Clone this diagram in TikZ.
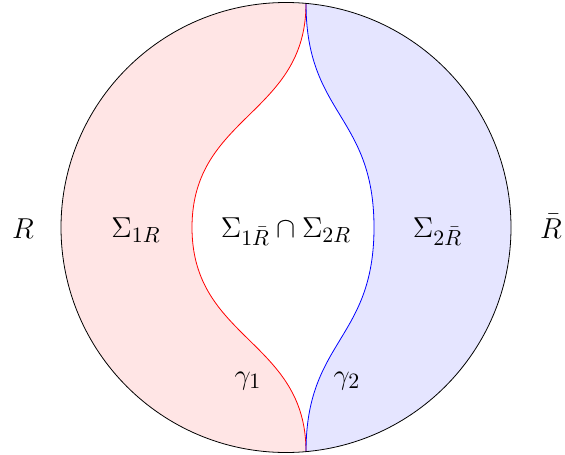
\documentclass[tikz,border=0pt]{standalone}
\begin{document}
\begin{tikzpicture}[x=0.5pt,y=-0.5pt,
  lbl/.style={anchor=base,inner sep=0pt,font=\fontsize{15.8}{19}\selectfont}]
\useasboundingbox (0,0) rectangle (565,454);
\coordinate (c) at (286,227.5);
\coordinate (top) at (306,3.4);
\coordinate (bot) at (306,451.6);
\coordinate (rm) at (192,227.5);
\coordinate (bm) at (374,227.5);
% red region
\begin{scope}
  \clip (top) .. controls (306,115) and (192,115) .. (rm)
        .. controls (192,340) and (306,340) .. (bot) -- (0,454) -- (0,0) -- cycle;
  \fill[red!10] (c) circle[radius=112.5pt];
\end{scope}
% blue region
\begin{scope}
  \clip (top) .. controls (306,115) and (374,115) .. (bm)
        .. controls (374,340) and (306,340) .. (bot) -- (565,454) -- (565,0) -- cycle;
  \fill[blue!10] (c) circle[radius=112.5pt];
\end{scope}
\draw[red] (top) .. controls (306,115) and (192,115) .. (rm)
        .. controls (192,340) and (306,340) .. (bot);
\draw[blue] (top) .. controls (306,115) and (374,115) .. (bm)
        .. controls (374,340) and (306,340) .. (bot);
\draw (c) circle[radius=112.5pt];
\node[lbl] (r) at (23,238) {$R$};
\node[lbl] (s1r) at (136,237) {$\Sigma_{1R}$};
\node[lbl] (mid) at (286,237) {$\Sigma_{1\bar R}\cap\Sigma_{2R}$};
\node[lbl] (s2r) at (437.5,237) {$\Sigma_{2\bar R}$};
\node[lbl] (rb) at (551,238) {$\bar R$};
\node[lbl] (g1) at (248,384) {$\gamma_1$};
\node[lbl] (g2) at (347,384) {$\gamma_2$};
\end{tikzpicture}
\end{document}
